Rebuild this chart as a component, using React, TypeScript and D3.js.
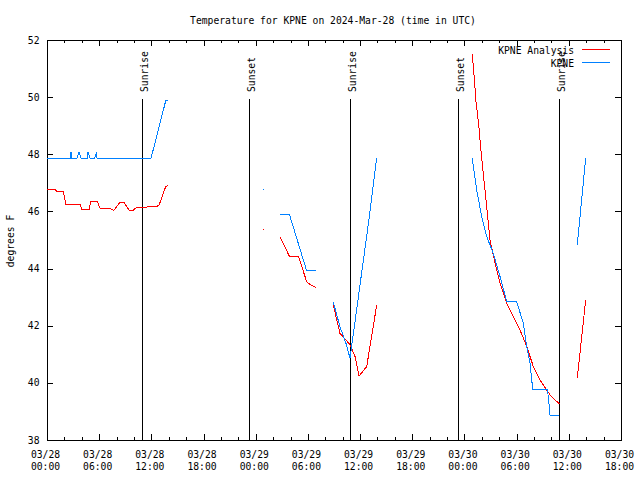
import * as d3 from 'd3';
import React, { useEffect, useRef } from 'react';

// hours after 2024-03-28 00:00 UTC; null starts a new segment (gap in data)
const obsHours: (number | null)[] = [
  0, 2.70, 2.76, 2.87, 3.45, 3.68, 3.91, 4.66, 4.71, 4.95, 5.46, 5.71, 5.75, 11.96, 13.65, 13.88, null,
  24.87, null,
  26.79, 27.86, 29.86, 30.93, null,
  32.92, 33.69, 34.38, 34.84, 36.0, 37.0, 37.91, null,
  48.90, 49.41, 49.98, 50.56, 51.32, 52.09, 52.86, 54.01, 54.77, 55.16, 55.54, 55.85, 57.53, 57.64, 57.84, 58.91, null,
  60.97, 61.94,
];
const obsTemps: (number | null)[] = [
  47.86, 47.86, 48.09, 47.86, 47.86, 48.09, 47.86, 47.86, 48.09, 47.86, 47.86, 48.09, 47.86, 47.86, 49.87, 49.87, null,
  46.77, null,
  45.91, 45.91, 43.92, 43.92, null,
  42.82, 41.96, 41.38, 40.86, 43.45, 45.68, 47.88, null,
  47.86, 46.75, 45.82, 45.12, 44.53, 43.72, 42.84, 42.84, 42.08, 41.27, 40.68, 39.77, 39.77, 39.52, 38.87, 38.87, null,
  44.83, 47.86,
];

const anaHours: (number | null)[] = [
  0, 0.92, 1.12, 1.87, 2.15, 3.79, 3.99, 4.86, 5.02, 5.78, 6.09, 7.05, 7.70, 8.39, 8.85, 9.46, 9.92, 10.31, 11.46, 11.65, 12.73, 12.91, 13.65, 13.88, null,
  24.87, null,
  26.79, 27.86, 28.9, 29.86, 30.05, 30.93, null,
  32.92, 33.69, 34.38, 34.84, 35.42, 35.88, 36.76, 37.91, null,
  48.90, 49.13, 49.33, 49.64, 49.87, 50.10, 50.28, 50.56, 50.94, 51.44, 52.09, 52.86, 53.62, 54.39, 55.16, 55.92, 56.69, 57.84, 58.91, null,
  60.97, 61.94,
];
const anaTemps: (number | null)[] = [
  46.77, 46.77, 46.70, 46.70, 46.26, 46.26, 46.07, 46.07, 46.35, 46.35, 46.12, 46.12, 46.04, 46.32, 46.32, 46.04, 46.04, 46.15, 46.15, 46.19, 46.19, 46.24, 46.87, 46.90, null,
  45.37, null,
  45.10, 44.44, 44.44, 43.54, 43.48, 43.34, null,
  42.72, 41.73, 41.50, 41.33, 40.92, 40.24, 40.57, 42.72, null,
  51.51, 50.66, 49.84, 49.03, 48.21, 47.51, 46.98, 46.17, 45.00, 44.30, 43.48, 42.78, 42.32, 41.85, 41.27, 40.57, 40.10, 39.58, 39.26, null,
  40.16, 42.90,
];

const sunLabels = ['Sunrise', 'Sunset', 'Sunrise', 'Sunset', 'Sunrise'];
const sunHours = [10.87, 23.26, 34.87, 47.29, 58.9];

const yTicks = [38, 40, 42, 44, 46, 48, 50, 52];
const seriesNames = ['KPNE Analysis', 'KPNE'];
const seriesColors = ['#ff0000', '#0080ff'];

const t0 = Date.UTC(2024, 2, 28, 0);
const toDate = (h: number) => new Date(t0 + h * 3600 * 1000);

function segments(hours: (number | null)[], temps: (number | null)[]) {
  const out: [Date, number][][] = [];
  let cur: [Date, number][] = [];
  hours.forEach((h, i) => {
    const v = temps[i];
    if (h === null || v === null) {
      if (cur.length) out.push(cur);
      cur = [];
    } else cur.push([toDate(h), v]);
  });
  if (cur.length) out.push(cur);
  return out;
}

const App: React.FC = () => {
  const svgRef = useRef<SVGSVGElement>(null);

  useEffect(() => {
    if (!svgRef.current) return;
    const svg = d3.select(svgRef.current);
    svg.selectAll('*').remove();

    const width = 640;
    const height = 480;
    const left = 47, right = 621, top = 40, bottom = 440;
    const font = '"DejaVu Sans Mono", monospace';

    svg.attr('width', width).attr('height', height);
    svg.append('rect').attr('width', width).attr('height', height).attr('fill', '#fff');

    const x = d3.scaleUtc().domain([toDate(0), toDate(66)]).range([left, right]);
    const y = d3.scaleLinear().domain([38, 52]).range([bottom, top]);

    const g = svg.append('g').attr('shape-rendering', 'crispEdges');

    // ticks - x (major every 6h, minor every 2h), mirrored on top
    const minor = d3.utcHour.every(2)!.range(toDate(0), toDate(66.01));
    minor.forEach(d => {
      const isMajor = d.getUTCHours() % 6 === 0;
      const len = isMajor ? 6 : 3;
      const px = Math.round(x(d)) + 0.5;
      g.append('line').attr('x1', px).attr('x2', px).attr('y1', bottom).attr('y2', bottom - len).attr('stroke', '#000');
      g.append('line').attr('x1', px).attr('x2', px).attr('y1', top).attr('y2', top + len).attr('stroke', '#000');
    });
    const major = d3.utcHour.every(6)!.range(toDate(0), toDate(66.01));
    const fmtDay = d3.utcFormat('%m/%d');
    const fmtTime = d3.utcFormat('%H:%M');
    major.forEach(d => {
      const t = svg.append('text')
        .attr('x', x(d) - 1.5)
        .attr('text-anchor', 'middle')
        .style('font-family', font)
        .style('font-size', '9.7px');
      t.append('tspan').attr('x', x(d) - 1.5).attr('y', 457.5).text(fmtDay(d));
      t.append('tspan').attr('x', x(d) - 1.5).attr('y', 469.5).text(fmtTime(d));
    });

    // ticks - y
    yTicks.forEach(v => {
      const py = Math.round(y(v)) + 0.5;
      g.append('line').attr('x1', left).attr('x2', left + 6).attr('y1', py).attr('y2', py).attr('stroke', '#000');
      g.append('line').attr('x1', right).attr('x2', right - 6).attr('y1', py).attr('y2', py).attr('stroke', '#000');
      svg.append('text')
        .attr('x', 39.5)
        .attr('y', y(v) + 3.5)
        .attr('text-anchor', 'end')
        .style('font-family', font)
        .style('font-size', '9.7px')
        .text(String(v));
    });

    // frame
    g.append('rect')
      .attr('x', left + 0.5).attr('y', top + 0.5)
      .attr('width', right - left).attr('height', bottom - top)
      .attr('fill', 'none').attr('stroke', '#000');

    // sunrise / sunset markers
    sunHours.forEach((h, i) => {
      const px = Math.round(x(toDate(h))) + 0.5;
      g.append('line').attr('x1', px).attr('x2', px).attr('y1', 99).attr('y2', bottom).attr('stroke', '#000');
      svg.append('text')
        .attr('transform', `translate(${px + 5},92) rotate(-90)`)
        .style('font-family', font)
        .style('font-size', '9.7px')
        .text(sunLabels[i]);
    });

    // data
    const line = d3.line<[Date, number]>().x(d => x(d[0])).y(d => y(d[1]));
    const drawSeries = (segs: [Date, number][][], color: string) => {
      segs.forEach(s => {
        if (s.length === 1) {
          g.append('rect')
            .attr('x', Math.round(x(s[0][0]))).attr('y', Math.round(y(s[0][1])))
            .attr('width', 1).attr('height', 1).attr('fill', color);
        } else {
          g.append('path').attr('d', line(s) || '').attr('fill', 'none')
            .attr('stroke', color).attr('stroke-width', 1);
        }
      });
    };
    drawSeries(segments(anaHours, anaTemps), seriesColors[0]);
    drawSeries(segments(obsHours, obsTemps), seriesColors[1]);

    // legend
    seriesNames.forEach((name, i) => {
      const ly = 49 + i * 13;
      svg.append('text')
        .attr('x', 574).attr('y', ly + 4.5)
        .attr('text-anchor', 'end')
        .style('font-family', font)
        .style('font-size', '9.7px')
        .text(name);
      g.append('line').attr('x1', 582).attr('x2', 610).attr('y1', ly + 0.5).attr('y2', ly + 0.5)
        .attr('stroke', seriesColors[i]);
    });

    // title + y label
    svg.append('text')
      .attr('x', 333).attr('y', 23.5)
      .attr('text-anchor', 'middle')
      .style('font-family', font)
      .style('font-size', '9.7px')
      .text('Temperature for KPNE on 2024-Mar-28 (time in UTC)');
    svg.append('text')
      .attr('transform', 'translate(14,241) rotate(-90)')
      .attr('text-anchor', 'middle')
      .style('font-family', font)
      .style('font-size', '9.7px')
      .text('degrees F');
  }, []);

  return (
    <svg ref={svgRef} style={{ position: 'absolute', left: 0, top: 0, display: 'block' }} />
  );
};

export default App;
